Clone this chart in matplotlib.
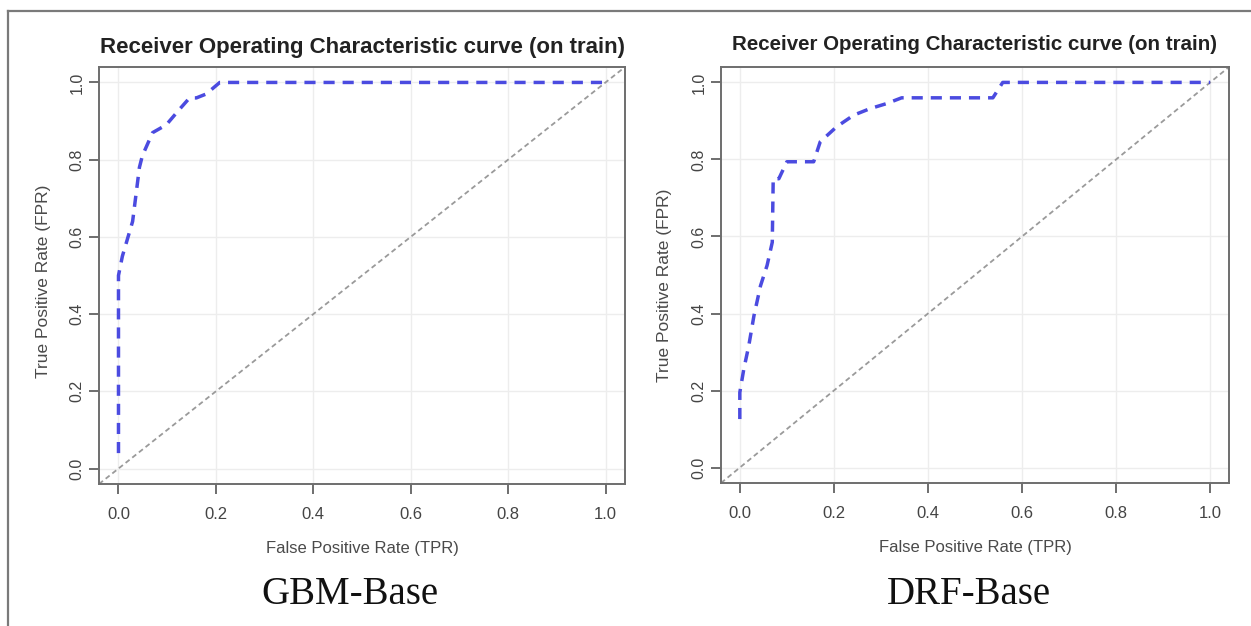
import matplotlib
matplotlib.use("Agg")
import matplotlib.pyplot as plt
from matplotlib.lines import Line2D

# ---- data ----
gbm_fpr = [0.0, 0.0, 0.008, 0.029, 0.043, 0.049, 0.070, 0.098, 0.125, 0.146, 0.160, 0.180, 0.208, 1.0]
gbm_tpr = [0.04, 0.50, 0.55, 0.64, 0.78, 0.81, 0.87, 0.89, 0.93, 0.96, 0.96, 0.97, 1.0, 1.0]

drf_fpr = [0.0, 0.0, 0.0085, 0.019, 0.030, 0.044, 0.058, 0.069, 0.071, 0.083, 0.100, 0.157,
           0.171, 0.206, 0.242, 0.277, 0.312, 0.344, 0.538, 0.559, 1.0]
drf_tpr = [0.126, 0.195, 0.256, 0.316, 0.394, 0.472, 0.525, 0.585, 0.75, 0.75, 0.794, 0.794,
           0.846, 0.885, 0.915, 0.932, 0.945, 0.960, 0.960, 1.0, 1.0]

ticks = [0.0, 0.2, 0.4, 0.6, 0.8, 1.0]
tick_labels = ["0.0", "0.2", "0.4", "0.6", "0.8", "1.0"]
title = "Receiver Operating Characteristic curve (on train)"
xlabel = "False Positive Rate (TPR)"
ylabel = "True Positive Rate (FPR)"
captions = ["GBM-Base", "DRF-Base"]

W, H = 1251, 626
fig = plt.figure(figsize=(W / 100, H / 100), dpi=100)
fig.patch.set_facecolor("white")

def px_axes(x0, y0, x1, y1):
    return fig.add_axes([x0 / W, 1 - y1 / H, (x1 - x0) / W, (y1 - y0) / H])

sans = ["Liberation Sans", "DejaVu Sans"]
serif = ["Liberation Serif", "DejaVu Serif"]

panels = [
    # axes box (px), data, title (x, y, size), caption (x, y), ylabel (x, y) px
    (px_axes(99, 67, 625, 484), (99, 67, 625, 484), gbm_fpr, gbm_tpr,
     (362, 48, 16), (350, 595), (44, 281), captions[0]),
    (px_axes(721, 67, 1229, 483), (721, 67, 1229, 483), drf_fpr, drf_tpr,
     (974, 44, 14.8), (969, 595), (664, 285), captions[1]),
]

for ax, box, fx, ty, (tx, tyy, ts), (cx, cy), (lx, ly), cap in panels:
    x0, y0, x1, y1 = box
    ax.set_xlim(-0.04, 1.04)
    ax.set_ylim(-0.04, 1.04)
    ax.set_xticks(ticks)
    ax.set_yticks(ticks)
    ax.grid(True, color="#ededed", lw=1.0)
    ax.set_axisbelow(True)
    ax.axline((0, 0), (1, 1), color="#9a9a9a", lw=1.3, ls=(0, (2.8, 1.9)), zorder=2)
    ax.plot(fx, ty, color="#4b4be0", lw=2.5, ls=(0, (3.2, 2.3)), zorder=3)
    for s in ax.spines.values():
        s.set_color("#6e6e6e")
        s.set_linewidth(1.4)
    ax.tick_params(direction="out", length=7.5, width=1.2, color="#555555",
                   labelcolor="#444444")
    ax.tick_params(axis="x", pad=9, labelsize=12)
    ax.tick_params(axis="y", pad=3, labelsize=11.5)
    ax.set_xticklabels(tick_labels, family=sans)
    ax.set_yticklabels(tick_labels, family=sans, rotation=90, va="center")
    ax.set_xlabel(xlabel, family=sans, fontsize=12, color="#4a4a4a", labelpad=13.5)
    ax.set_ylabel(ylabel, family=sans, fontsize=12.5, color="#4a4a4a", va="center")
    ax.yaxis.set_label_coords((lx - x0) / (x1 - x0), (y1 - ly) / (y1 - y0))
    fig.text(tx / W, 1 - tyy / H, title, family=sans, fontsize=ts, fontweight="bold",
             color="#222222", ha="center", va="center")
    fig.text(cx / W, 1 - cy / H, cap, family=serif, fontsize=28, color="#111111",
             ha="center", va="center")

# outer frame
fig.add_artist(Line2D([8 / W, 1.0], [1 - 11 / H, 1 - 11 / H], transform=fig.transFigure,
                      color="#7a7a7a", lw=1.6))
fig.add_artist(Line2D([8 / W, 8 / W], [0.0, 1 - 11 / H], transform=fig.transFigure,
                      color="#7a7a7a", lw=1.6))

fig.savefig("out.png", dpi=100, facecolor="white")
